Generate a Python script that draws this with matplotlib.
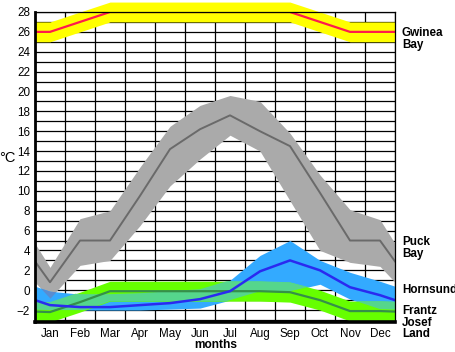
import numpy as np
import matplotlib
matplotlib.use("Agg")
import matplotlib.pyplot as plt

months = ["Jan", "Feb", "Mar", "Apr", "May", "Jun", "Jul", "Aug", "Sep", "Oct", "Nov", "Dec"]
y_ticks = [28, 26, 24, 22, 20, 18, 16, 14, 12, 10, 8, 6, 4, 2, 0, -2]

gwinea_mean = [26, 27, 28, 28, 28, 28, 28, 28, 28, 27, 26, 26]
gwinea_high = [27, 28, 29, 29, 29, 29, 29, 29, 29, 28, 27, 27]
gwinea_low = [25, 26, 27, 27, 27, 27, 27, 27, 27, 26, 25, 25]

puck_mean = [0.8, 5.0, 5.0, 9.5, 14.2, 16.2, 17.6, 16.0, 14.5, 9.8, 5.0, 5.0]
puck_high = [2.3, 7.2, 8.0, 12.4, 16.5, 18.6, 19.6, 19.0, 15.8, 11.6, 8.1, 7.1]
puck_low = [-0.8, 2.5, 3.0, 6.5, 10.5, 13.2, 15.6, 14.0, 9.0, 4.0, 2.8, 2.4]

hornsund_mean = [-1.5, -1.7, -1.7, -1.5, -1.3, -0.9, -0.1, 1.9, 3.0, 2.0, 0.3, -0.5]
hornsund_high = [-0.1, -0.4, -0.4, -0.3, -0.1, 0.1, 1.0, 3.5, 5.0, 3.0, 1.8, 0.9]
hornsund_low = [-2.0, -2.0, -2.0, -2.0, -1.9, -1.8, -1.0, -0.1, -0.1, 0.6, -0.9, -1.9]

frantz_mean = [-2.2, -1.2, -0.1, -0.1, -0.1, -0.1, -0.1, -0.1, -0.2, -1.0, -2.1, -2.1]
frantz_high = [-1.2, -0.2, 0.9, 0.9, 0.9, 0.9, 0.9, 0.9, 0.8, 0.0, -1.1, -1.1]
frantz_low = [-3.2, -2.2, -1.1, -1.1, -1.1, -1.1, -1.1, -1.1, -1.2, -2.0, -3.1, -3.1]

W, H = 456, 352
fig = plt.figure(figsize=(W / 100, H / 100), dpi=100)
ax = fig.add_axes([35 / W, 1 - 322 / H, 360 / W, 310 / H])

xc = np.arange(12) + 0.5
xs = np.concatenate([[0], xc, [12]])
fine = np.linspace(0, 12, 1201)


def wrap(v):
    v = list(v)
    e = (v[0] + v[-1]) / 2.0
    return np.array([e] + v + [e])


def dense(v):
    return np.interp(fine, xs, wrap(v))


GRAY = "#aaaaaa"
YELLOW = "#ffff00"
BLUE = "#33aaff"
GREEN = "#66ff00"
TEAL = "#55d68c"
STEEL = "#5a8cd0"

# bands
ax.fill_between(fine, dense(puck_low), dense(puck_high), color=GRAY, lw=0, zorder=2)
ax.fill_between(fine, dense(gwinea_low), dense(gwinea_high), color=YELLOW, lw=0, zorder=2, clip_on=False)
ax.fill_between(fine, dense(hornsund_low), dense(hornsund_high), color=BLUE, lw=0, zorder=2.1)
ax.fill_between(fine, dense(frantz_low), dense(frantz_high), color=GREEN, lw=0, zorder=2.2)

# overlaps
lo = np.maximum(dense(hornsund_low), dense(frantz_low))
hi = np.minimum(dense(hornsund_high), dense(frantz_high))
ax.fill_between(fine, lo, hi, where=hi > lo, color=TEAL, lw=0, zorder=2.3)
lo = np.maximum(dense(hornsund_low), dense(puck_low))
hi = np.minimum(dense(hornsund_high), dense(puck_high))
ax.fill_between(fine, lo, hi, where=hi > lo, color=STEEL, lw=0, zorder=2.3)

# lines
ax.plot(xs, wrap(gwinea_mean), color="#ff1a4d", lw=1.6, zorder=3)
ax.plot(xs, wrap(puck_mean), color="#6a6a6a", lw=1.4, zorder=3)
ax.plot(xs, wrap(frantz_mean), color="#359049", lw=1.6, zorder=3)
ax.plot(xs, wrap(hornsund_mean), color="#2a2af0", lw=1.8, zorder=3)

ax.set_xlim(0, 12)
ax.set_ylim(-3.2, 28)

# grid
for gx in range(0, 13):
    ax.axvline(gx, color="black", lw=0.9, zorder=1)
for gy in range(-3, 29):
    ax.axhline(gy, color="black", lw=0.9, zorder=1)

ax.set_xticks(xc)
ax.set_xticklabels(months)
ax.set_yticks(y_ticks)
ax.set_yticklabels([str(t).replace("-", "\u2212") for t in y_ticks])
ax.tick_params(length=0, labelsize=8.4, pad=3.5)
ax.tick_params(axis="x", pad=4.2)
for lab in ax.get_xticklabels() + ax.get_yticklabels():
    lab.set_fontfamily("Liberation Sans")

for s in ["top", "right"]:
    ax.spines[s].set_linewidth(0.9)
ax.spines["left"].set_linewidth(2.0)
ax.spines["bottom"].set_linewidth(2.6)
for s in ax.spines.values():
    s.set_zorder(5)

fig.text(216 / W, 1 - 345 / H, "months", ha="center", va="center", fontsize=8.6,
         fontweight="bold", family="Liberation Sans")
fig.text(7 / W, 1 - 158 / H, "\u00b0C", ha="center", va="center", fontsize=10.5,
         family="Liberation Sans")

labels = ["Gwinea\nBay", "Puck\nBay", "Hornsund", "Frantz\nJosef\nLand"]
label_top_px = [27, 236, 284, 305]
for txt, ty in zip(labels, label_top_px):
    fig.text(402 / W, 1 - ty / H, txt, ha="left", va="top", fontsize=8.4,
             fontweight="bold", family="Liberation Sans", linespacing=0.95)

fig.savefig("out.png", dpi=100)
